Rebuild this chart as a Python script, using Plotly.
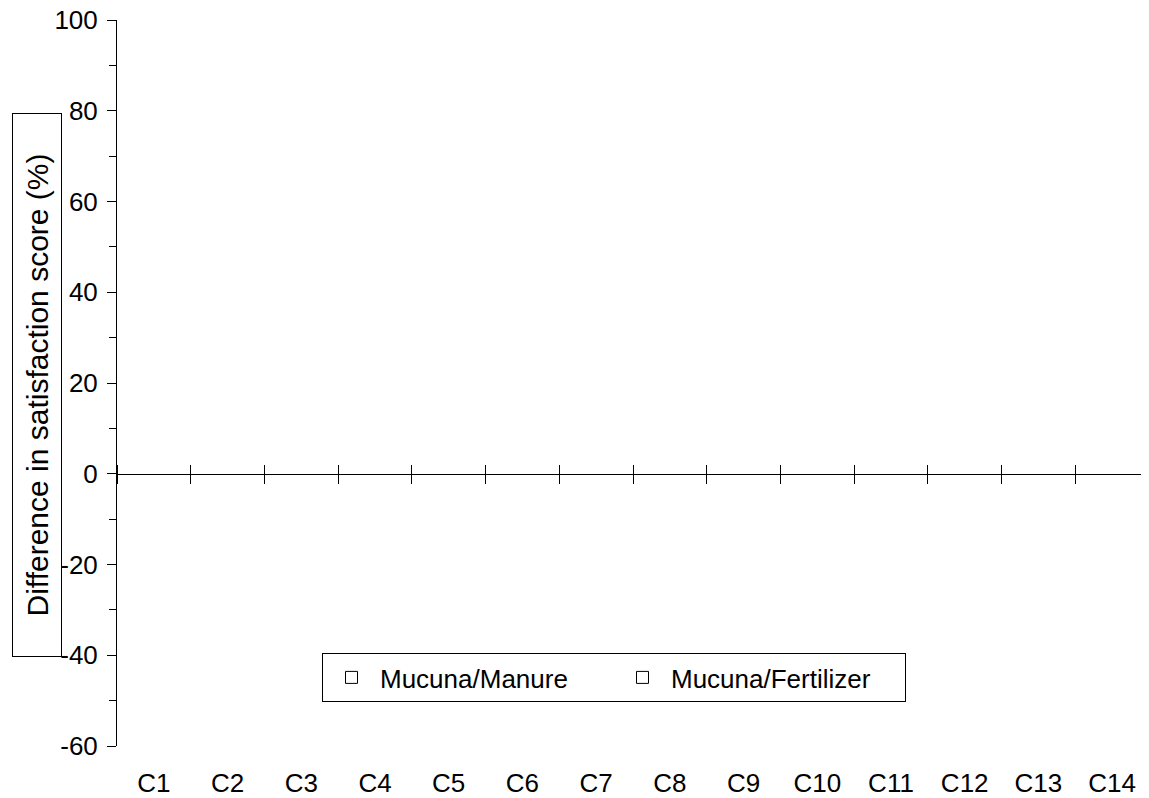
import plotly.graph_objects as go

categories = ["C1", "C2", "C3", "C4", "C5", "C6", "C7", "C8", "C9", "C10", "C11", "C12", "C13", "C14"]
# no bars are visible in the reference chart
manure_values = [None] * 14
fertilizer_values = [None] * 14
series_names = ["Mucuna/Manure", "Mucuna/Fertilizer"]
y_tick_values = [-60, -40, -20, 0, 20, 40, 60, 80, 100]
y_tick_labels = ["-60", "-40", "-20", "0", "20", "40", "60", "80", "100"]
y_title = "Difference in satisfaction score (%)"

FONT = "Liberation Sans, Arial, sans-serif"
OFF = 8  # page body margin
W, H = 1149 - OFF, 798 - OFF
ML, MR, MT, MB = 117 - OFF, 0, 20 - OFF, 52
PW, PH = W - ML - MR, H - MT - MB
YMIN, YMAX = -60, 100

fig = go.Figure()
for name, vals in zip(series_names, [manure_values, fertilizer_values]):
    fig.add_trace(go.Bar(
        x=categories, y=vals, name=name,
        marker=dict(color="white", line=dict(color="black", width=1)),
    ))

# helper traces for the crossing tick axes at y = 0
for ax in ["x2", "x3"]:
    fig.add_trace(go.Scatter(x=categories, y=[None] * len(categories), xaxis=ax, yaxis="y",
                             showlegend=False, hoverinfo="skip", mode="markers"))

zero_pos = (0 - YMIN) / (YMAX - YMIN)

common_cat = dict(type="category", categoryorder="array", categoryarray=categories,
                  range=[-0.5, len(categories) - 0.5])

fig.update_layout(
    width=W, height=H,
    margin=dict(l=ML, r=MR, t=MT, b=MB, autoexpand=False),
    paper_bgcolor="white", plot_bgcolor="white",
    font=dict(family=FONT, size=26, color="black"),
    barmode="group",
    xaxis=dict(**common_cat, showline=False, ticks="outside", ticklen=14,
               tickcolor="rgba(0,0,0,0)", showgrid=False, zeroline=False,
               tickfont=dict(size=26), ticklabeloverflow="allow", automargin=False),
    xaxis2=dict(**common_cat, overlaying="x", anchor="free", position=zero_pos, side="bottom",
                showline=True, linecolor="black", linewidth=1, ticks="outside",
                tickson="boundaries", ticklen=9, tickcolor="black", tickwidth=1,
                showticklabels=False, showgrid=False, zeroline=False, automargin=False),
    xaxis3=dict(**common_cat, overlaying="x", anchor="free", position=zero_pos, side="top",
                showline=False, ticks="outside",
                tickson="boundaries", ticklen=9, tickcolor="black", tickwidth=1,
                showticklabels=False, showgrid=False, zeroline=False, automargin=False),
    yaxis=dict(range=[YMIN, YMAX], tickmode="array", tickvals=y_tick_values,
               ticktext=y_tick_labels, showline=True, linecolor="black",
               linewidth=1, ticks="outside", ticklen=9, tickcolor="black",
               minor=dict(dtick=10, tick0=0, ticks="outside", ticklen=7, tickcolor="black"),
               showgrid=False, zeroline=False, ticklabelstandoff=4,
               tickfont=dict(size=26), ticklabeloverflow="allow", automargin=False),
    legend=dict(orientation="h", x=(322 - 117) / PW, y=(PH - (653 - 20)) / PH,
                xanchor="left", yanchor="top", bordercolor="black", borderwidth=1,
                bgcolor="white", font=dict(size=26), itemwidth=47,
                entrywidth=229, entrywidthmode="pixels"),
    showlegend=True,
)

fig.add_annotation(
    text=y_title, textangle=-90, xref="paper", yref="paper",
    x=(37 - 117) / PW, y=(PH - (385 - 20)) / PH, xanchor="center", yanchor="middle",
    showarrow=False, font=dict(size=30, family=FONT, color="black"),
    width=542, height=48, borderpad=0, bordercolor="black", borderwidth=1,
)

fig.write_html("out.html")
